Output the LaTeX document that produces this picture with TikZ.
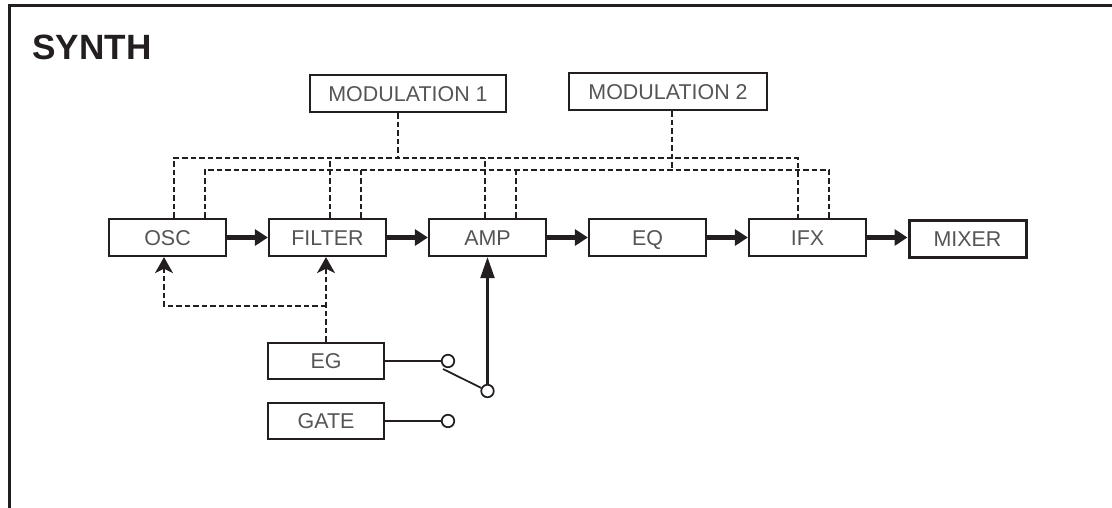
\documentclass[tikz,border=0pt]{standalone}
\usepackage{fontspec}
\setmainfont{Liberation Sans}
\definecolor{synth_line}{RGB}{35, 31, 32}
\definecolor{synth_text}{RGB}{85, 85, 88}
\usetikzlibrary{arrows.meta}

\begin{document}
\begin{tikzpicture}[font=\fontsize{12.2}{14}\selectfont,
    block/.style={draw=synth_line, line width=0.045cm, text=synth_text,
                  text height=8.8pt, text depth=0pt,
                  minimum width=2.34cm, minimum height=0.74cm, inner sep=0pt},
    modbus/.style={draw=synth_line, line width=0.04cm, dash pattern=on 0.11cm off 0.06cm},
    envarrow/.style={modbus, -{Stealth[length=0.32cm, width=0.36cm, inset=0.09cm]}},
    flowarrow/.style={draw=synth_line, line width=0.1cm, -{Triangle[length=0.26cm, width=0.32cm]}},
    wire/.style={draw=synth_line, line width=0.035cm},
    jack/.style={circle, draw=synth_line, line width=0.035cm, fill=white,
                 minimum size=0.25cm, inner sep=0pt}]
  \useasboundingbox (0, 0) rectangle (22.24, -10.16);
  \draw[synth_line, line width=0.06cm] (0.19, -10.16) -- (0.19, -0.11) -- (22.24, -0.11);
  \node[anchor=base west, inner sep=0pt, text=synth_line,
        font=\fontsize{20}{24}\selectfont\bfseries] (title) at (0.64, -1.2) {SYNTH};

  \node[block, minimum width=3.92cm] (mod1) at (8.16, -1.87) {MODULATION 1};
  \node[block, minimum width=3.96cm] (mod2) at (13.36, -1.83) {MODULATION 2};

  \foreach \name/\label/\x in {osc/OSC/3.35, filter/FILTER/6.55, amp/AMP/9.75,
                               eq/EQ/12.95, ifx/IFX/16.15}
    \node[block] (\name) at (\x, -4.75) {\label};
  \node[block, line width=0.06cm] (mixer) at (19.35, -4.78) {MIXER};

  \node[block, minimum width=2.32cm, minimum height=0.72cm] (eg) at (6.52, -7.22) {EG};
  \node[block, minimum width=2.32cm, minimum height=0.72cm] (gate) at (6.52, -8.42) {GATE};

  \node[jack] (egjack) at (8.96, -7.22) {};
  \node[jack] (gatejack) at (8.96, -8.42) {};
  \node[jack] (ampjack) at (9.75, -7.82) {};
  \coordinate (lever) at (8.86, -7.38);

  \foreach \a/\b in {osc/filter, filter/amp, amp/eq, eq/ifx, ifx/mixer}
    \draw[flowarrow] (\a.east) -- (\a.east -| \b.west);

  \coordinate (bus1) at (0, -3.16);
  \coordinate (bus2) at (0, -3.40);
  \foreach \name/\da/\db in {osc/0.13/0.75, filter/0.05/0.67, amp/-0.05/0.57, ifx/-0.19/0.43} {
    \coordinate (\name1) at ([xshift=\da cm]\name.north);
    \coordinate (\name2) at ([xshift=\db cm]\name.north);
  }
  \coordinate (mod1out) at ([xshift=-0.2cm]mod1.south);
  \coordinate (mod2out) at ([xshift=0.08cm]mod2.south);

  \draw[modbus] (osc1) |- (bus1 -| ifx1) -- (ifx1);
  \draw[modbus] (osc2) |- (bus2 -| ifx2) -- (ifx2);
  \foreach \name in {filter, amp} {
    \draw[modbus] (\name1) -- (\name1 |- bus1);
    \draw[modbus] (\name2) -- (\name2 |- bus2);
  }
  \draw[modbus] (mod1out) -- (mod1out |- bus1);
  \draw[modbus] (mod2out) -- (mod2out |- bus2);

  \coordinate (envsplit) at (0, -6.12);
  \draw[envarrow] (eg.north) -- (eg.north |- filter.south);
  \draw[envarrow] (eg.north |- envsplit) -| ([xshift=-0.07cm]osc.south);

  \draw[wire] (eg.east) -- (egjack);
  \draw[wire] (gate.east) -- (gatejack);
  \draw[wire] (lever) -- (ampjack);
  \draw[wire, line width=0.045cm, -{Triangle[length=0.42cm, width=0.28cm]}]
    (ampjack) -- (ampjack |- amp.south);
\end{tikzpicture}
\end{document}
